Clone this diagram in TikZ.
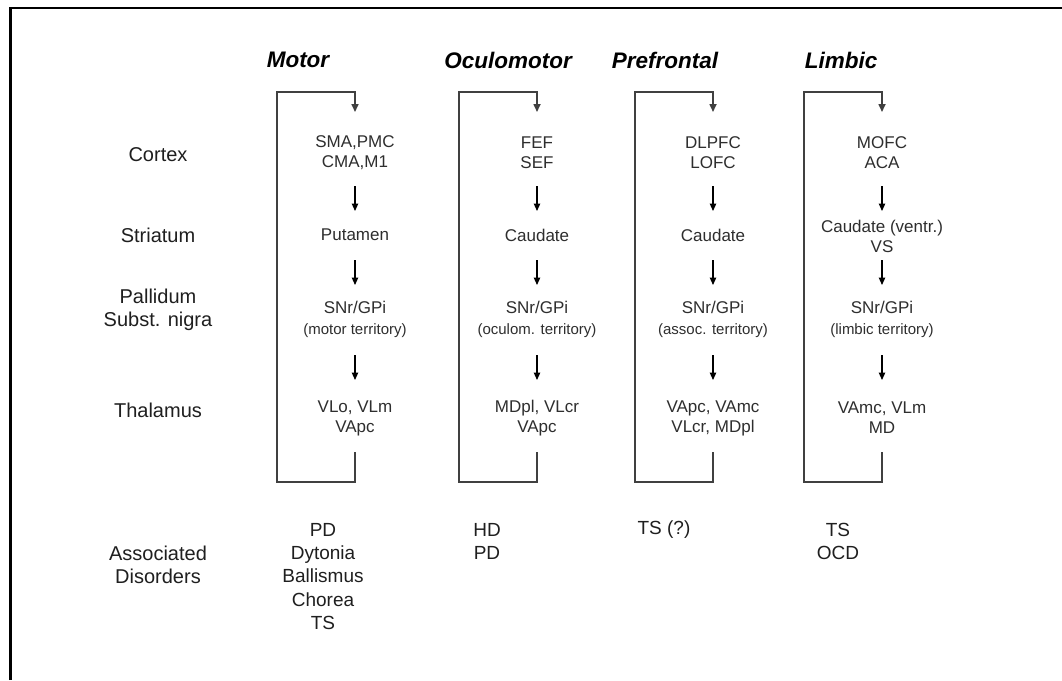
\documentclass[tikz,border=0pt]{standalone}
\usepackage{fontspec}
\setmainfont{Liberation Sans}
\usetikzlibrary{arrows.meta,calc}
\newcommand{\terrtext}[1]{{\fontsize{15}{20}\selectfont #1}}
\begin{document}
\begin{tikzpicture}[x=1pt,y=-1pt,
  lbl/.style={font=\fontsize{20}{23}\selectfont, align=center, inner sep=0, text=black!88},
  hdr/.style={font=\fontsize{22.5}{24}\selectfont\bfseries\itshape, inner sep=0},
  txt/.style={font=\fontsize{17}{20}\selectfont, align=center, inner sep=0, text=black!82},
  dis/.style={font=\fontsize{19}{23.3}\selectfont, align=center, inner sep=0, text=black!88},
  arr/.style={-{Triangle[length=7.5pt,width=6.5pt]}, line width=1.1pt},
  loopline/.style={line width=1.6pt, draw=black!75, -{Triangle[length=8pt,width=7pt]}},
]
\useasboundingbox (0,0) rectangle (1062,680);
\fill[white] (0,0) rectangle (1062,680);
\coordinate (fbl) at (10.5,680);
\coordinate (ftl) at (10.5,8);
\coordinate (ftr) at (1062,8);
\draw[line width=2.5pt] (fbl) -- (ftl) -- (ftr);

% row labels
\node[lbl] (lctx) at (158,155) {Cortex};
\node[lbl] (lstr) at (158,235) {Striatum};
\node[lbl] (lpal) at (158,310) {Pallidum\\Subst. nigra};
\node[lbl] (lthal) at (158,410) {Thalamus};
\node[lbl] (ldis) at (158,565) {Associated\\Disorders};

% headers
\node[hdr] (h1) at (298,60) {Motor};
\node[hdr] (h2) at (508,60) {Oculomotor};
\node[hdr] (h3) at (665,60) {Prefrontal};
\node[hdr] (h4) at (841,60) {Limbic};

% Motor
\node[txt] (c1) at (355,153) {SMA,PMC\\CMA,M1};
\node[txt] (s1) at (355,235) {Putamen};
\node[txt] (p1) at (355,319) {SNr/GPi\\[1pt]\terrtext{(motor territory)}};
\node[txt] (t1) at (355,418) {VLo, VLm\\VApc};
\node[dis] (d1) at (323,576.5) {PD\\Dytonia\\Ballismus\\Chorea\\TS};

% Oculomotor
\node[txt] (c2) at (537,153) {FEF\\SEF};
\node[txt] (s2) at (537,235) {Caudate};
\node[txt] (p2) at (537,319) {SNr/GPi\\[1pt]\terrtext{(oculom. territory)}};
\node[txt] (t2) at (537,418) {MDpl, VLcr\\VApc};
\node[dis] (d2) at (487,541.5) {HD\\PD};

% Prefrontal
\node[txt] (c3) at (713,153) {DLPFC\\LOFC};
\node[txt] (s3) at (713,235) {Caudate};
\node[txt] (p3) at (713,319) {SNr/GPi\\[1pt]\terrtext{(assoc. territory)}};
\node[txt] (t3) at (713,418) {VApc, VAmc\\VLcr, MDpl};
\node[dis] (d3) at (664,530) {TS (?)};

% Limbic
\node[txt] (c4) at (882,153) {MOFC\\ACA};
\node[txt] (s4) at (882,236) {Caudate (ventr.)\\VS};
\node[txt] (p4) at (882,319) {SNr/GPi\\[1pt]\terrtext{(limbic territory)}};
\node[txt] (t4) at (882,418) {VAmc, VLm\\MD};
\node[dis] (d4) at (838,541.5) {TS\\OCD};

% arrows and loops
\foreach \i in {1,2,3,4}{
  \draw[arr] (c\i.center |- 0,186) -- (s\i.center |- 0,211);
  \draw[arr] (s\i.center |- 0,260) -- (p\i.center |- 0,285);
  \draw[arr] (p\i.center |- 0,355) -- (t\i.center |- 0,380);
  \draw[loopline] (t\i.center |- 0,452) -- (t\i.center |- 0,482)
     -- ++(-78,0) -- ++(0,-390) -| (c\i.center |- 0,112);
}
\end{tikzpicture}
\end{document}
